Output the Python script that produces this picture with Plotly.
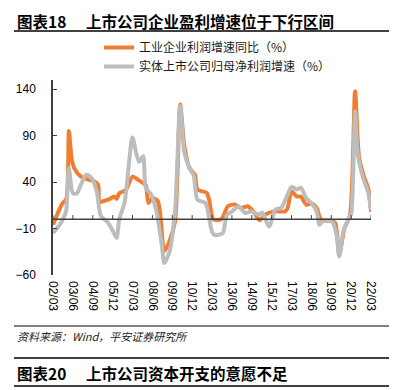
import plotly.graph_objects as go

# ---- data ----
orange_dates = ["2002-03", "2002-07", "2002-10", "2003-01", "2003-03", "2003-05", "2003-07", "2003-12",
                "2004-05", "2004-10", "2005-01", "2005-02", "2005-06", "2005-10", "2006-01", "2006-03",
                "2006-05", "2006-10", "2007-03", "2007-07", "2007-11", "2008-01", "2008-03", "2008-06",
                "2008-10", "2008-12", "2009-03", "2009-07", "2009-11", "2010-03", "2010-06", "2010-10",
                "2011-02", "2011-04", "2011-11", "2012-01", "2012-04", "2012-10", "2013-03", "2013-08",
                "2014-01", "2014-06", "2014-11", "2015-03", "2015-07", "2016-02", "2016-10", "2016-12",
                "2017-03", "2017-07", "2017-10", "2018-02", "2018-06", "2018-10", "2019-01", "2019-05",
                "2019-09", "2019-12", "2020-03", "2020-07", "2020-11", "2021-03", "2021-06", "2021-10",
                "2022-01", "2022-03"]
orange_values = [-6, 8, 17, 22, 95, 66, 55, 46,
                 43, 41, 37, 18.5, 20, 22, 24.6, 22,
                 28, 31.7, 46, 42.7, 39, 37, 17.5, 23,
                 19.7, 4, -34.5, -23, -2.7, 123.5, 80, 55,
                 48, 32, 28.4, 19.5, 0, 0, 14, 15.8,
                 12, 14, 6.8, -1, 5, 8.5, 8.5, 12,
                 30, 24.5, 24.5, 15.8, 17, 12, 0, -1.5,
                 -1.5, -4, -38, -9.4, 4, 138, 66, 44.5,
                 32, 8]

gray_dates = ["2002-03", "2002-08", "2002-12", "2003-01", "2003-03", "2003-06", "2003-09", "2003-12",
              "2004-04", "2004-08", "2004-12", "2005-03", "2005-08", "2005-12", "2006-03", "2006-05",
              "2006-09", "2007-03", "2007-06", "2007-08", "2007-11", "2008-01", "2008-05", "2008-09",
              "2009-01", "2009-03", "2009-07", "2009-11", "2010-03", "2010-06", "2010-10", "2011-01",
              "2011-04", "2011-10", "2012-01", "2012-03", "2012-05", "2012-11", "2013-02", "2013-06",
              "2013-11", "2014-04", "2014-09", "2015-02", "2015-05", "2015-10", "2016-03", "2016-07",
              "2016-11", "2017-03", "2017-07", "2017-10", "2018-02", "2018-06", "2018-10", "2018-12",
              "2019-03", "2019-06", "2019-10", "2020-01", "2020-03", "2020-06", "2020-10", "2020-12",
              "2021-03", "2021-05", "2021-09", "2022-01", "2022-03"]
gray_values = [-14.7, -6, 5, 10, 55, 28, 28, 37,
               48, 44.5, 30, 4, -3, -12, -20, 0,
               18.5, 88, 70, 62, 68, 34, 27, 8.5,
               -27, -47, -34.5, 8.5, 122, 73, 55, 48,
               21, 17.5, 0, -13.5, -17, -15, 4, 8.5,
               14, 6.8, 8.5, 5, 7, -8, 10.5, 12,
               23, 35, 32, 34, 23, 17.5, 8.5, -6,
               -1.5, -1.5, -3, -17, -40, -13.5, 0, 6,
               116, 70, 44.5, 28, 10]

series_names = ["工业企业利润增速同比（%）", "实体上市公司归母净利润增速（%）"]
x_tick_dates = ["2002-03", "2003-06", "2004-09", "2005-12", "2007-03", "2008-06", "2009-09",
                "2010-12", "2012-03", "2013-06", "2014-09", "2015-12", "2017-03", "2018-06",
                "2019-09", "2020-12", "2022-03"]
x_tick_labels = ["02/03", "03/06", "04/09", "05/12", "07/03", "08/06", "09/09", "10/12", "12/03",
                 "13/06", "14/09", "15/12", "17/03", "18/06", "19/09", "20/12", "22/03"]
y_ticks = [-60, -10, 40, 90, 140]

title_num = "图表18"
title_text = "上市公司企业盈利增速位于下行区间"
source_text = "资料来源：Wind，平安证券研究所"
next_num = "图表20"
next_text = "上市公司资本开支的意愿不足"

ORANGE = "#F07D32"
GRAY = "#BDBDBD"
AXIS = "#404040"
FONT = "Liberation Sans, Arial, Noto Sans CJK SC, sans-serif"
CJK = "Noto Sans CJK SC, sans-serif"

W, H = 397, 390
L, R, T, B = 45, 34, 72, 123
ymin, ymax = -60, 150
x_range = ["2002-03-01", "2022-03-01"]
tick_len_units = 4.5  # upward tick length on the zero line, in y units

fig = go.Figure()
fig.add_trace(go.Scatter(x=orange_dates, y=orange_values, name=series_names[0], mode="lines",
                         line=dict(color=ORANGE, width=4, shape="spline", smoothing=0.7),
                         hoverinfo="skip"))
fig.add_trace(go.Scatter(x=gray_dates, y=gray_values, name=series_names[1], mode="lines",
                         line=dict(color=GRAY, width=4, shape="spline", smoothing=0.7),
                         hoverinfo="skip"))
# zero line with upward ticks
fig.add_trace(go.Scatter(x=[x_range[0], x_range[1]], y=[0, 0], mode="lines",
                         line=dict(color=AXIS, width=1.5), showlegend=False, hoverinfo="skip"))
fig.add_trace(go.Scatter(x=x_tick_dates, y=[0] * len(x_tick_dates), mode="markers",
                         marker=dict(size=1, color="rgba(0,0,0,0)"),
                         error_y=dict(type="data", array=[tick_len_units] * len(x_tick_dates),
                                      arrayminus=[0] * len(x_tick_dates), symmetric=False,
                                      color=AXIS, thickness=1, width=0),
                         showlegend=False, hoverinfo="skip"))


def px_x(px):
    return (px - L) / (W - L - R)


def px_y(py):
    return (H - B - py) / (H - T - B)


fig.update_layout(
    width=W, height=H,
    margin=dict(l=L, r=R, t=T, b=B, pad=0, autoexpand=False),
    paper_bgcolor="white", plot_bgcolor="white",
    font=dict(family=FONT, size=12, color="#000000"),
    showlegend=True,
    legend=dict(x=px_x(91), y=px_y(25),
                xanchor="left", yanchor="top", orientation="v",
                font=dict(family=CJK, size=12, color="#1a1a1a"),
                bgcolor="rgba(0,0,0,0)", tracegroupgap=0, itemwidth=30),
    xaxis=dict(type="date", range=x_range, tickvals=x_tick_dates, ticktext=x_tick_labels,
               tickangle=90, showgrid=False, zeroline=False, automargin=False,
               showline=False, ticks="", ticklabelstandoff=5,
               tickfont=dict(family=FONT, size=12, color="#000")),
    yaxis=dict(range=[ymin, ymax], tickvals=y_ticks, showgrid=False, zeroline=False,
               showline=True, linecolor=AXIS, linewidth=1.5, ticks="inside", automargin=False,
               ticklen=4, tickcolor=AXIS, ticklabelstandoff=13,
               tickfont=dict(family=FONT, size=12, color="#000")),
)

ann = []
for txt, px, py, fnt in [
    ("<b>" + title_num + "</b>", 7, 13, dict(family=CJK, size=15.5, color="#000")),
    ("<b>" + title_text + "</b>", 76, 13, dict(family=CJK, size=15.5, color="#000")),
    ("<i>" + source_text + "</i>", 7, 328, dict(family=CJK, size=11, color="#222")),
    ("<b>" + next_num + "</b>", 7, 365, dict(family=CJK, size=15.5, color="#000")),
    ("<b>" + next_text + "</b>", 76, 365, dict(family=CJK, size=15.5, color="#000")),
]:
    ann.append(dict(text=txt, x=px_x(px), y=px_y(py), xref="paper", yref="paper",
                    xanchor="left", yanchor="middle", showarrow=False, font=fnt))
fig.update_layout(annotations=ann)

shapes = []
for py, w in [(23, 1.5), (318, 1), (350, 1.5), (378, 1.5)]:
    shapes.append(dict(type="line", xref="paper", yref="paper", x0=px_x(6), x1=px_x(395),
                       y0=px_y(py), y1=px_y(py), line=dict(color="#000", width=w)))
fig.update_layout(shapes=shapes)

fig.write_html("out.html")
